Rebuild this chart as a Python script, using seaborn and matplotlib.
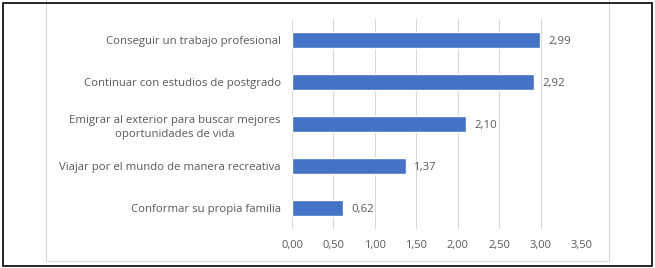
import matplotlib
matplotlib.use('Agg')
import matplotlib.pyplot as plt
import seaborn as sns
import pandas as pd
from matplotlib.patches import Rectangle

# data
categories = [
    'Conseguir un trabajo profesional',
    'Continuar con estudios de postgrado',
    'Emigrar al exterior para buscar mejores\noportunidades de vida',
    'Viajar por el mundo de manera recreativa',
    'Conformar su propia familia',
]
values = [2.99, 2.92, 2.10, 1.37, 0.62]
x_ticks = [0.0, 0.5, 1.0, 1.5, 2.0, 2.5, 3.0, 3.5]

BAR = '#4472c4'
TXT = '#595959'

sns.set_style('white')
plt.rcParams['font.family'] = ['Open Sans', 'DejaVu Sans']

df = pd.DataFrame({'cat': categories, 'val': values})

W, H = 655, 268
fig = plt.figure(figsize=(W / 100, H / 100), dpi=100)
ax = fig.add_axes([292 / W, 1 - 229 / H, (582 - 292) / W, 210 / H])

sns.barplot(data=df, x='val', y='cat', color=BAR, width=0.36,
            orient='h', ax=ax, saturation=1)

ax.set_xlim(0, 3.5)
ax.set_xticks(x_ticks)
ax.set_xticklabels([f'{t:.2f}'.replace('.', ',') for t in x_ticks],
                   fontsize=8, color=TXT)
ax.tick_params(axis='x', length=0, pad=8)
ax.tick_params(axis='y', length=0, pad=8)
for lab in ax.get_yticklabels():
    lab.set_fontsize(8.2)
    lab.set_color(TXT)
    lab.set_multialignment('center')
    lab.set_linespacing(1.45)
ax.set_xlabel('')
ax.set_ylabel('')
ax.grid(axis='x', color='#d9d9d9', linewidth=0.8)
ax.set_axisbelow(True)
for s in ax.spines.values():
    s.set_visible(False)

for i, v in enumerate(values):
    ax.text(v + 0.1, i + 0.04, f'{v:.2f}'.replace('.', ','), va='center',
            ha='left', fontsize=8.2, color=TXT)

# inner chart frame and outer black frame
fig.patches.append(Rectangle((46 / W, 1 - 261 / H), (609 - 46) / W, 262 / H,
                             transform=fig.transFigure, fill=False,
                             edgecolor='#d9d9d9', linewidth=0.8))
fig.patches.append(Rectangle((3 / W, 1 - 266 / H), (652 - 3) / W, 263 / H,
                             transform=fig.transFigure, fill=False,
                             edgecolor='black', linewidth=1.2))

fig.savefig('out.png', dpi=100, facecolor='white')
